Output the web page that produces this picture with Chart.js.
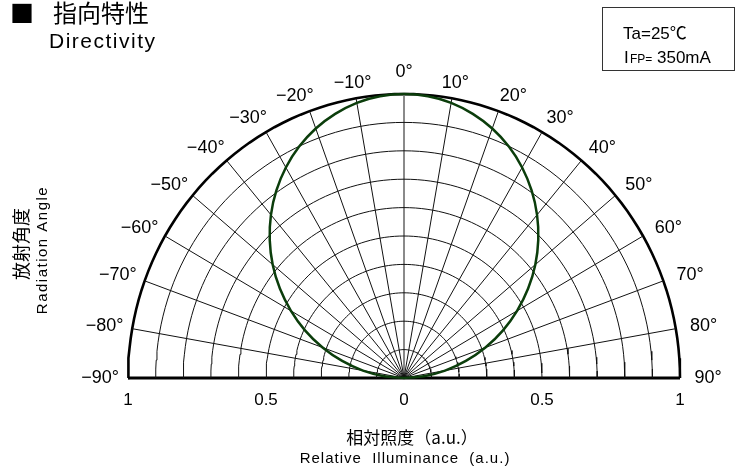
<!DOCTYPE html>
<html><head><meta charset="utf-8">
<script src="https://cdn.jsdelivr.net/npm/chart.js@4.4.1/dist/chart.umd.min.js"></script>
<style>html,body{margin:0;padding:0;background:#fff;overflow:hidden}canvas{display:block}</style>
</head><body>
<canvas id="c" width="736" height="472"></canvas>
<script>
// ---- data ----
const angles = [-90,-85,-80,-75,-70,-65,-60,-55,-50,-45,-40,-35,-30,-25,-20,-15,-10,-5,0,5,10,15,20,25,30,35,40,45,50,55,60,65,70,75,80,85,90];
const relIllum = [0,0.072,0.151,0.232,0.314,0.395,0.473,0.549,0.621,0.688,0.750,0.806,0.856,0.899,0.935,0.963,0.984,0.996,1,0.996,0.984,0.963,0.935,0.899,0.856,0.806,0.750,0.688,0.621,0.549,0.473,0.395,0.314,0.232,0.151,0.072,0];
const angleLabels = [-90,-80,-70,-60,-50,-40,-30,-20,-10,0,10,20,30,40,50,60,70,80,90];
const ringRadii = [0.1,0.2,0.3,0.4,0.5,0.6,0.7,0.8,0.9];
const spokeAngles = [-80,-70,-60,-50,-40,-30,-20,-10,10,20,30,40,50,60,70,80];
const xTicks = [-1,-0.5,0,0.5,1];

const rad = d => d*Math.PI/180;
const polar = (r,a) => ({x: r*Math.sin(rad(a)), y: r*Math.cos(rad(a))});

function arc(r){ const pts=[]; for(let a=-90;a<=90;a+=2) pts.push(polar(r,a)); return pts; }
const base = {showLine:true, pointRadius:0, pointHoverRadius:0, clip:false, fill:false};

const datasets = [];
datasets.push(Object.assign({}, base, {
  label:'curve', data: angles.map((a,i)=>polar(relIllum[i],a)),
  borderColor:'#0b3d0b', borderWidth:2.5, tension:0.2
}));
ringRadii.forEach(r => datasets.push(Object.assign({}, base, {data:arc(r), borderColor:'#111', borderWidth:1})));
spokeAngles.forEach(a => datasets.push(Object.assign({}, base, {data:[polar(0,a),polar(1,a)], borderColor:'#111', borderWidth:1})));
datasets.push(Object.assign({}, base, {data:[polar(0,0),polar(1,0)], borderColor:'#8a8a8a', borderWidth:2}));
datasets.push(Object.assign({}, base, {data:arc(1), borderColor:'#000', borderWidth:2.6}));
datasets.push(Object.assign({}, base, {data:[polar(1,-90),polar(1,90)], borderColor:'#000', borderWidth:3.2}));
datasets.forEach((d,i)=>d.order = i);

const LAT = '"Liberation Sans", Arial, sans-serif';
const CJK = '"Noto Sans CJK JP", sans-serif';

const textPlugin = {
  id:'texts',
  afterDraw(chart){
    const ctx = chart.ctx, xs = chart.scales.x, ys = chart.scales.y;
    ctx.save();
    ctx.fillStyle = '#000';
    // title
    ctx.textAlign='left'; ctx.textBaseline='alphabetic';
    ctx.font = '24px ' + CJK;
    ctx.fillText('■', 10, 22);
    ctx.fillText('指向特性', 53, 22);
    ctx.font = '21px ' + LAT;
    ctx.letterSpacing = '1.5px';
    ctx.fillText('Directivity', 49, 48);
    ctx.letterSpacing = '0px';
    // condition box
    ctx.strokeStyle = '#333'; ctx.lineWidth = 1;
    ctx.strokeRect(602.5, 7.5, 132, 63);
    ctx.font = '17px ' + LAT + ', ' + CJK;
    ctx.fillText('Ta=25℃', 623, 39);
    ctx.fillText('I', 624, 63);
    ctx.font = '12px ' + LAT;
    ctx.fillText('FP=', 630, 63);
    ctx.font = '17px ' + LAT;
    ctx.fillText('350mA', 657, 63);
    // angle labels
    ctx.font = '18px ' + LAT;
    ctx.textAlign='center'; ctx.textBaseline='middle';
    angleLabels.forEach(a=>{
      const p = polar(1,a);
      const px = xs.getPixelForValue(p.x), py = ys.getPixelForValue(p.y);
      const s = Math.sign(a) * (Math.abs(a)>=20 ? 8 : 0);
      const cx = px + 20*Math.sin(rad(a)) + s, cy = py - 16*Math.cos(rad(a)) - (a===0 ? 6 : 0);
      ctx.fillText((a<0?'−':'') + Math.abs(a) + '°', cx, cy);
    });
    // x-axis title
    ctx.textAlign='center'; ctx.textBaseline='middle';
    ctx.font = '17px ' + CJK;
    ctx.fillText('相対照度（a.u.）', 412, 438);
    ctx.font = '15px ' + LAT;
    ctx.letterSpacing = '1px';
    ctx.fillText('Relative  Illuminance  (a.u.)', 405, 459);
    ctx.letterSpacing = '0px';
    // y-axis title
    ctx.save();
    ctx.translate(21, 244); ctx.rotate(-Math.PI/2);
    ctx.font = '18px ' + CJK;
    ctx.fillText('放射角度', 0, 0);
    ctx.restore();
    ctx.save();
    ctx.translate(43, 250); ctx.rotate(-Math.PI/2);
    ctx.font = '15px ' + LAT;
    ctx.letterSpacing = '1.5px';
    ctx.fillText('Radiation Angle', 0, 0);
    ctx.restore();
    ctx.restore();
  }
};

new Chart(document.getElementById('c'), {
  type:'scatter',
  data:{datasets},
  options:{
    responsive:false, animation:false, devicePixelRatio:1, events:[],
    layout:{padding:{left:128, right:56, top:94, bottom:64}},
    plugins:{legend:{display:false}, tooltip:{enabled:false}},
    scales:{
      x:{type:'linear', min:-1, max:1, position:'bottom',
        afterBuildTicks: s => { s.ticks = xTicks.map(v=>({value:v})); },
        afterFit: s => { s.height = 30; },
        grid:{display:false, drawTicks:false}, border:{display:false},
        ticks:{padding:12, color:'#000', font:{family:LAT, size:17}, maxRotation:0, autoSkip:false,
          callback: v => String(Math.abs(v))}
      },
      y:{type:'linear', min:0, max:1, display:false}
    }
  },
  plugins:[textPlugin]
});
</script>
</body></html>
